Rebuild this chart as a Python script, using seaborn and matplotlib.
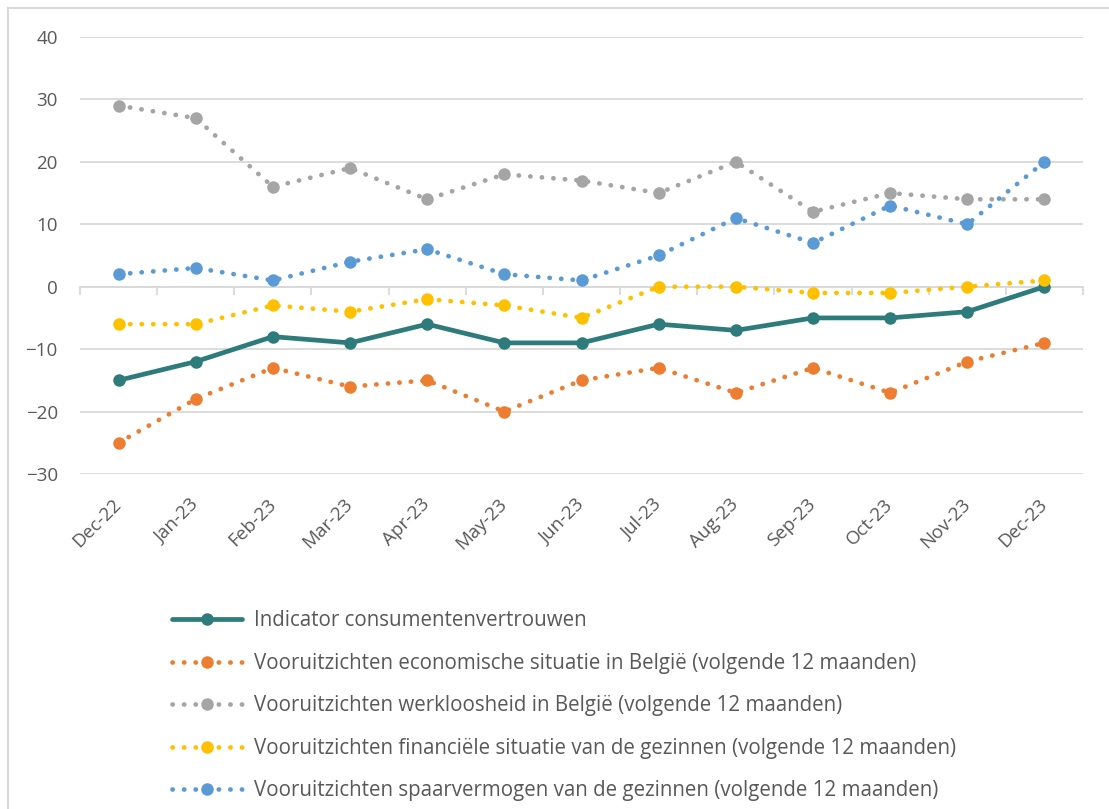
import pandas as pd
import seaborn as sns
import matplotlib.pyplot as plt
from matplotlib.patches import Rectangle
from matplotlib.ticker import FixedLocator

# Data
months = ['Dec-22', 'Jan-23', 'Feb-23', 'Mar-23', 'Apr-23', 'May-23', 'Jun-23',
          'Jul-23', 'Aug-23', 'Sep-23', 'Oct-23', 'Nov-23', 'Dec-23']
indicator = [-15, -12, -8, -9, -6, -9, -9, -6, -7, -5, -5, -4, 0]
economie = [-25, -18, -13, -16, -15, -20, -15, -13, -17, -13, -17, -12, -9]
werkloosheid = [29, 27, 16, 19, 14, 18, 17, 15, 20, 12, 15, 14, 14]
financieel = [-6, -6, -3, -4, -2, -3, -5, 0, 0, -1, -1, 0, 1]
sparen = [2, 3, 1, 4, 6, 2, 1, 5, 11, 7, 13, 10, 20]

labels = ['Indicator consumentenvertrouwen',
          'Vooruitzichten economische situatie in België (volgende 12 maanden)',
          'Vooruitzichten werkloosheid in België (volgende 12 maanden)',
          'Vooruitzichten financiële situatie van de gezinnen (volgende 12 maanden)',
          'Vooruitzichten spaarvermogen van de gezinnen (volgende 12 maanden)']
series = [indicator, economie, werkloosheid, financieel, sparen]
colors = ['#2E7B7C', '#ED7D31', '#A5A5A5', '#FFC000', '#5B9BD5']

sns.set_theme(style='white')
plt.rcParams['font.family'] = ['Open Sans', 'DejaVu Sans']
txt = '#595959'

fig = plt.figure(figsize=(11.09, 8.09), dpi=100)
ax = fig.add_axes([0.0721, 0.4141, 0.9045, 0.5402])

for i, (vals, lab, col) in enumerate(zip(series, labels, colors)):
    df = pd.DataFrame({'month': months, 'value': vals})
    if i == 0:
        sns.lineplot(data=df, x='month', y='value', ax=ax, color=col, lw=3.4,
                     marker='o', markersize=9, markeredgewidth=0, label=lab,
                     solid_capstyle='round')
    else:
        sns.lineplot(data=df, x='month', y='value', ax=ax, color=col, lw=3.4,
                     linestyle=(0, (0.05, 2.4)), dash_capstyle='round',
                     marker='o', markersize=9, markeredgewidth=0, label=lab)

ax.set_xlim(-0.5, len(months) - 0.5)
ax.set_ylim(-30, 40)
ax.set_yticks(range(-30, 41, 10))
ax.grid(axis='y', color='#d9d9d9', lw=1.3)
ax.set_axisbelow(True)
for s in ax.spines.values():
    s.set_visible(False)
ax.set_xlabel('')
ax.set_ylabel('')
ax.tick_params(axis='y', length=0, pad=16, labelsize=13.5, labelcolor=txt)
ax.set_xticks(range(len(months)))
ax.set_xticklabels(months, rotation=45, ha='right', va='center',
                   rotation_mode='anchor')
ax.tick_params(axis='x', length=0, pad=20, labelsize=13.5, labelcolor=txt)

# horizontal axis line at zero with Excel-style tick marks between categories
sec = ax.secondary_xaxis(30 / 70)
sec.spines['bottom'].set_color('#d9d9d9')
sec.spines['bottom'].set_linewidth(1.3)
sec.xaxis.set_major_locator(FixedLocator([x - 0.5 for x in range(len(months) + 1)]))
sec.tick_params(axis='x', direction='out', length=6, width=1.3, color='#d9d9d9',
                labelbottom=False)

ax.get_legend().remove()
handles, labs = ax.get_legend_handles_labels()
fig.legend(handles, labs, loc='upper left', bbox_to_anchor=(0.148, 0.256),
           frameon=False, fontsize=14.8, labelcolor=txt, handlelength=3.4,
           handletextpad=0.55, labelspacing=1.05, borderaxespad=0)

# light frame around the chart
fig.patches.append(Rectangle((8 / 1109, -0.01), 1.1, 1 - 8 / 809 + 0.01,
                             transform=fig.transFigure, fill=False,
                             edgecolor='#d9d9d9', lw=1.5))

fig.savefig('out.png', dpi=100)
